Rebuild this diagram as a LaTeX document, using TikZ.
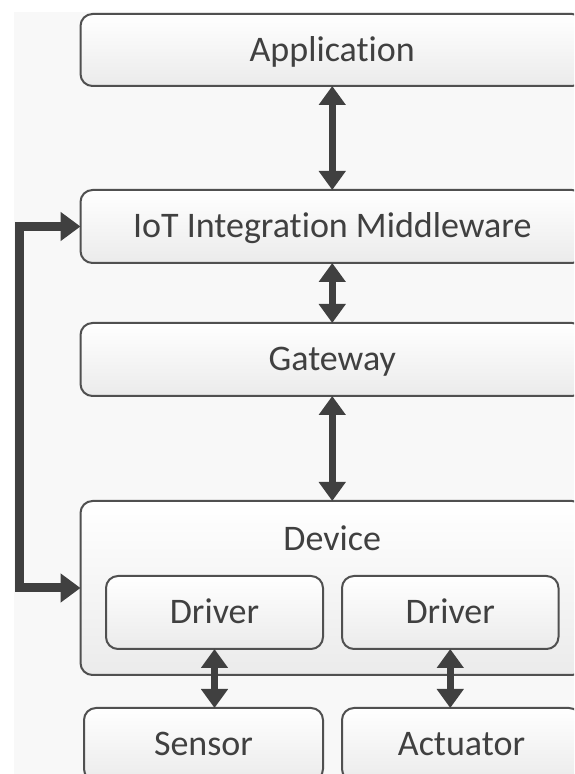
\documentclass[tikz,border=0pt]{standalone}
\usepackage{fontspec}
\setmainfont{Carlito}[Ligatures=NoCommon]
\usetikzlibrary{arrows.meta}
\definecolor{edge}{HTML}{505050}
\definecolor{txt}{HTML}{404040}
\definecolor{shadebot}{HTML}{EBEBEB}
\definecolor{bgfill}{HTML}{F8F8F8}
\definecolor{arrowc}{HTML}{404040}
\tikzset{
  box/.style={draw=edge, line width=2pt, rounded corners=12pt, top color=white, bottom color=shadebot,
    inner sep=0pt, outer sep=0pt, text=txt, font=\fontsize{36}{40}\selectfont,
    text height=23pt, text depth=0pt},
  biarrow/.style={draw=arrowc, line width=7pt, {Triangle[width=26pt,length=19pt]}-{Triangle[width=26pt,length=19pt]}},
  sidearrow/.style={draw=arrowc, line width=9pt, {Triangle[width=28pt,length=20pt]}-{Triangle[width=28pt,length=20pt]}},
  lbl/.style={text=txt, font=\fontsize{36}{40}\selectfont, inner sep=0pt, text height=23pt, text depth=0pt}
}
\begin{document}
\begin{tikzpicture}[x=1pt,y=1pt]
\useasboundingbox (0,0) rectangle (574,774);
\clip (0,0) rectangle (574,774);
\fill[bgfill] (14,0) rectangle (574,762);
\node[box, minimum width=503.5pt, minimum height=72pt] (app) at (332.25,724) {Application};
\node[box, minimum width=503.5pt, minimum height=73pt] (mw) at (332.25,547.5) {IoT Integration Middleware};
\node[box, minimum width=503.5pt, minimum height=73pt] (gw) at (332.25,414.5) {Gateway};
\node[box, minimum width=503.5pt, minimum height=174pt] (dev) at (332.25,186) {};
\node[lbl] (devlbl) at (332.25,235) {Device};
\node[box, minimum width=217pt, minimum height=73pt] (d1) at (214.5,161.5) {Driver};
\node[box, minimum width=216.5pt, minimum height=73pt] (d2) at (450.25,161.5) {Driver};
\node[box, minimum width=239pt, minimum height=73pt] (sen) at (203.5,29.5) {Sensor};
\node[box, minimum width=239pt, minimum height=73pt] (act) at (461.5,29.5) {Actuator};
\coordinate (lx) at (19.5,366);
\draw[biarrow] (app.south) -- (mw.north);
\draw[biarrow] (mw.south) -- (gw.north);
\draw[biarrow] (gw.south) -- (dev.north);
\draw[biarrow] (d1.south) -- (d1.south |- sen.north);
\draw[biarrow] (d2.south) -- (d2.south |- act.north);
\draw[sidearrow] (mw.west) -| (lx) |- (dev.west);
\end{tikzpicture}
\end{document}
